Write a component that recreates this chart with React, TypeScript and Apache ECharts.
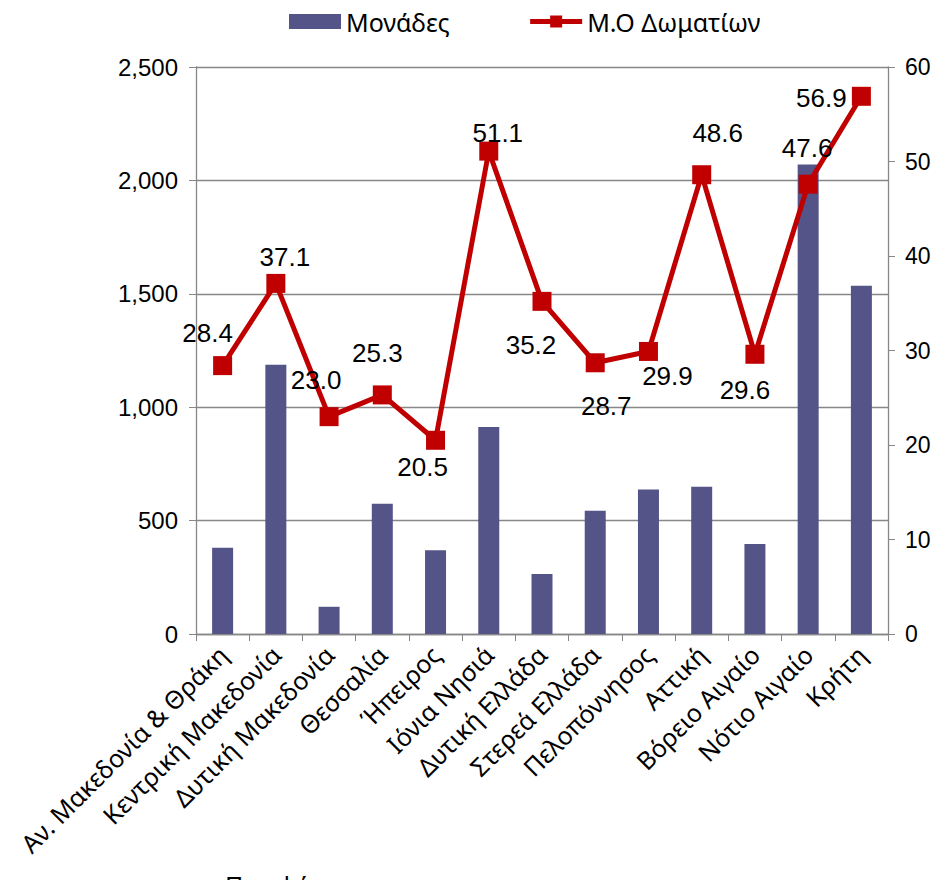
import React, { useEffect, useRef } from "react";
import * as echarts from "echarts";

const categories = [
  "Αν. Μακεδονία & Θράκη",
  "Κεντρική Μακεδονία",
  "Δυτική Μακεδονία",
  "Θεσσαλία",
  "Ήπειρος",
  "Ιόνια Νησιά",
  "Δυτική Ελλάδα",
  "Στερεά Ελλάδα",
  "Πελοπόννησος",
  "Αττική",
  "Βόρειο Αιγαίο",
  "Νότιο Αιγαίο",
  "Κρήτη",
];

const units = [380, 1187, 120, 574, 369, 913, 265, 543, 637, 649, 397, 2070, 1536];
const avgRooms = [28.4, 37.1, 23.0, 25.3, 20.5, 51.1, 35.2, 28.7, 29.9, 48.6, 29.6, 47.6, 56.9];

// label offsets (px) relative to each point, as placed in the original
const labelOffsets: [number, number][] = [
  [-15, -33], [9, -26], [-13, -37], [-5, -42], [-13, 27], [9, -18], [-11, 44],
  [11, 43], [19, 25], [16, -42], [-10, 36], [-1, -36], [-40, 2],
];

const leftTicks = { min: 0, max: 2500, interval: 500 };
const rightTicks = { min: 0, max: 60, interval: 10 };
const axisTitle = "Περιφέρεια";

export default function App() {
  const ref = useRef<HTMLDivElement>(null);
  useEffect(() => {
    if (!ref.current) return;
    const chart = echarts.init(ref.current, null, { renderer: "svg" });
    const axisColor = "#878787";
    const tickFont = "'Liberation Sans', Arial, sans-serif";
    const textFont = "'Noto Sans', sans-serif";
    chart.setOption({
      animation: false,
      backgroundColor: "#ffffff",
      legend: {
        left: 284,
        top: 4,
        itemGap: 78,
        itemWidth: 52,
        itemHeight: 15,
        textStyle: { fontFamily: textFont, fontSize: 25, color: "#000" },
        data: [
          { name: "Μονάδες", icon: "rect" },
          { name: "Μ.Ο Δωματίων", lineStyle: { width: 5 } },
        ],
      },
      grid: {
        left: 196,
        right: 49,
        top: 67,
        bottom: 246,
        containLabel: false,
        outerBoundsMode: "none",
      },
      xAxis: {
        type: "category",
        data: categories,
        boundaryGap: true,
        axisLine: { lineStyle: { color: axisColor, width: 1.3 } },
        axisTick: { show: true, length: 7, interval: 0, lineStyle: { color: axisColor } },
        axisLabel: {
          interval: 0,
          rotate: 45,
          fontFamily: textFont,
          fontSize: 25,
          color: "#000",
          margin: 16,
        },
      },
      yAxis: [
        {
          type: "value",
          ...leftTicks,
          axisLine: { show: true, lineStyle: { color: axisColor, width: 1.3 } },
          axisTick: { show: true, length: 7, lineStyle: { color: axisColor } },
          splitLine: { show: true, lineStyle: { color: axisColor, width: 1.3 } },
          axisLabel: {
            fontFamily: tickFont,
            fontSize: 24,
            color: "#000",
            margin: 18,
            formatter: (v: number) => v.toLocaleString("en-US"),
          },
        },
        {
          type: "value",
          ...rightTicks,
          position: "right",
          axisLine: { show: true, lineStyle: { color: axisColor, width: 1.3 } },
          axisTick: { show: true, length: 7, lineStyle: { color: axisColor } },
          splitLine: { show: false },
          axisLabel: { fontFamily: tickFont, fontSize: 23, color: "#000", margin: 17 },
        },
      ],
      series: [
        {
          name: "Μονάδες",
          type: "bar",
          data: units,
          barWidth: 21,
          itemStyle: { color: "#545488" },
          yAxisIndex: 0,
          z: 2,
        },
        {
          name: "Μ.Ο Δωματίων",
          type: "line",
          yAxisIndex: 1,
          data: avgRooms.map((v, i) => ({
            value: v,
            label: { offset: labelOffsets[i] },
          })),
          symbol: "rect",
          symbolSize: 19,
          lineStyle: { color: "#C00000", width: 5 },
          itemStyle: { color: "#C00000" },
          label: {
            show: true,
            position: "inside",
            fontFamily: tickFont,
            fontSize: 26,
            color: "#000",
            formatter: (p: any) => Number(p.value).toFixed(1),
          },
          z: 5,
        },
      ],
      graphic: [
        {
          type: "text",
          left: 225,
          top: 872,
          style: { text: axisTitle, fontFamily: textFont, fontSize: 25, fill: "#000" },
        },
      ],
    });
    return () => chart.dispose();
  }, []);
  return (
    <div
      ref={ref}
      style={{ position: "absolute", left: 0, top: 0, width: 937, height: 880 }}
    />
  );
}
